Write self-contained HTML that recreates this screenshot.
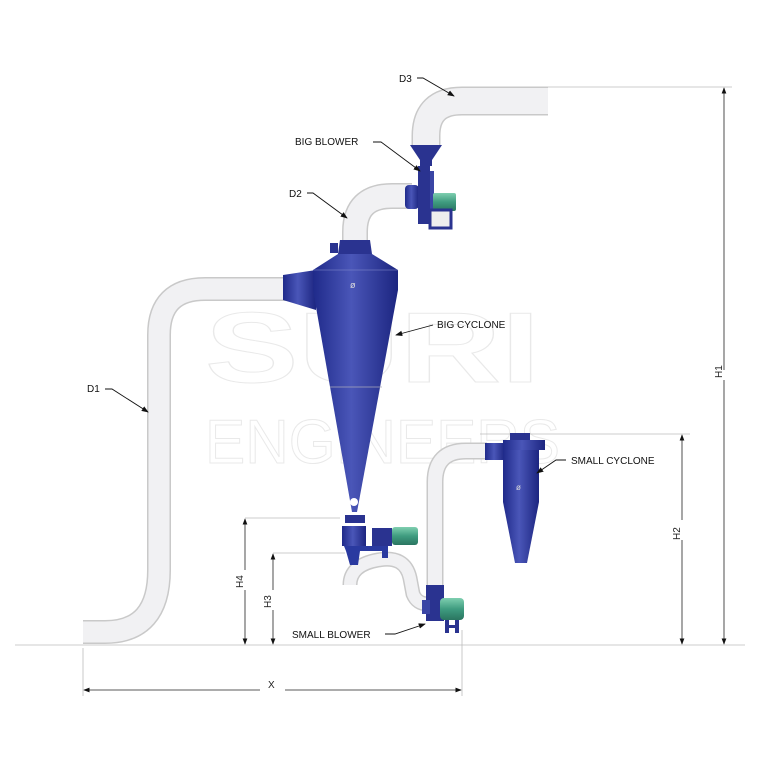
<!DOCTYPE html>
<html><head><style>
body{margin:0;background:#fff}
svg{display:block}
text{font-family:"Liberation Sans",sans-serif}
</style></head><body>
<svg width="768" height="768" viewBox="0 0 768 768" xmlns="http://www.w3.org/2000/svg">
<defs>
<linearGradient id="blue" x1="0" x2="1" y1="0" y2="0">
<stop offset="0" stop-color="#1f2a8a"/><stop offset="0.45" stop-color="#4a56b8"/><stop offset="1" stop-color="#1c2580"/>
</linearGradient>
<linearGradient id="green" x1="0" x2="0" y1="0" y2="1">
<stop offset="0" stop-color="#7fcfb0"/><stop offset="0.5" stop-color="#3f9c80"/><stop offset="1" stop-color="#2a7560"/>
</linearGradient>
<marker id="ar" markerWidth="8" markerHeight="8" refX="7" refY="4" orient="auto"><path d="M0,1 L8,4 L0,7z" fill="#111"/></marker>
</defs>
<!-- watermark -->
<g fill="none" stroke="#e9e9e9" stroke-width="1">
<text x="205" y="382" font-size="100" font-weight="bold" textLength="335" lengthAdjust="spacingAndGlyphs">SURI</text>
<text x="205" y="463" font-size="62" textLength="355" lengthAdjust="spacingAndGlyphs">ENGINEERS</text>
</g>
<!-- dimension lines -->
<g stroke="#bbb" stroke-width="0.8" fill="none">
<line x1="15" y1="645" x2="745" y2="645"/>
<line x1="548" y1="87" x2="732" y2="87"/>
<line x1="480" y1="434" x2="690" y2="434"/>
<line x1="245" y1="518" x2="340" y2="518"/>
<line x1="273" y1="553" x2="345" y2="553"/>
<line x1="83" y1="648" x2="83" y2="696"/>
<line x1="462" y1="630" x2="462" y2="696"/>
</g>
<g stroke="#222" stroke-width="0.8" fill="none" marker-end="url(#ar)">
<line x1="724" y1="370" x2="724" y2="88"/><line x1="724" y1="380" x2="724" y2="644"/>
<line x1="682" y1="520" x2="682" y2="435"/><line x1="682" y1="540" x2="682" y2="644"/>
<line x1="245" y1="570" x2="245" y2="519"/><line x1="245" y1="590" x2="245" y2="644"/>
<line x1="273" y1="590" x2="273" y2="554"/><line x1="273" y1="610" x2="273" y2="644"/>
<line x1="260" y1="690" x2="84" y2="690"/><line x1="285" y1="690" x2="461" y2="690"/>
</g>
<g font-size="10" fill="#222">
<text transform="translate(722,378) rotate(-90)">H1</text>
<text transform="translate(680,540) rotate(-90)">H2</text>
<text transform="translate(243,588) rotate(-90)">H4</text>
<text transform="translate(271,608) rotate(-90)">H3</text>
<text x="268" y="688">X</text>
</g>
<!-- pipes -->
<g fill="none" stroke-linecap="butt">
<path d="M292,289 L205,289 Q159,289 159,335 L159,570 Q159,632 105,632 L83,632" stroke="#c9c9c9" stroke-width="24"/>
<path d="M292,289 L205,289 Q159,289 159,335 L159,570 Q159,632 105,632 L83,632" stroke="#f1f1f3" stroke-width="21"/>
<path d="M355,248 L355,232 Q355,196 392,196 L412,196" stroke="#c9c9c9" stroke-width="26"/>
<path d="M355,248 L355,232 Q355,196 392,196 L412,196" stroke="#f1f1f3" stroke-width="23"/>
<path d="M426,146 L426,136 Q426,101 462,101 L548,101" stroke="#c9c9c9" stroke-width="29"/>
<path d="M426,146 L426,136 Q426,101 462,101 L548,101" stroke="#f1f1f3" stroke-width="26"/>
<path d="M487,451 L466,451 Q435,451 435,482 L435,588" stroke="#c9c9c9" stroke-width="17"/>
<path d="M487,451 L466,451 Q435,451 435,482 L435,588" stroke="#f1f1f3" stroke-width="14"/>
<path d="M350,585 Q350,565 378,560 Q405,555 410,578 L413,594 Q417,604 428,604" stroke="#c9c9c9" stroke-width="15"/>
<path d="M350,585 Q350,565 378,560 Q405,555 410,578 L413,594 Q417,604 428,604" stroke="#f1f1f3" stroke-width="12"/>
</g>
<!-- big cyclone -->
<path d="M283,275 L316,270 L316,310 L283,300z" fill="url(#blue)"/>
<path d="M340,240 L370,240 L372,254 L338,254z" fill="#2a3390"/>
<rect x="330" y="243" width="8" height="10" fill="#2a3390"/>
<path d="M338,254 L372,254 L398,270 L398,290 L357,512 L352,512 L313,290 L313,270z" fill="url(#blue)"/>
<line x1="313" y1="270" x2="398" y2="270" stroke="#8890d0" stroke-width="0.6"/>
<line x1="330" y1="387" x2="382" y2="387" stroke="#aab" stroke-width="0.8"/>
<circle cx="354" cy="502" r="4" fill="#fff"/>
<text x="350" y="288" font-size="9" fill="#ddd">ø</text>
<!-- big cyclone outlet & rotary -->
<rect x="345" y="515" width="20" height="8" fill="#2a3390"/>
<rect x="342" y="526" width="24" height="20" fill="url(#blue)"/>
<rect x="372" y="528" width="20" height="18" fill="#2a3390"/>
<rect x="392" y="527" width="26" height="18" rx="3" fill="url(#green)"/>
<path d="M344,546 L388,546 L388,558 L382,558 L382,551 L360,551 L358,565 L350,565 L346,551 Z" fill="#2a3aa0"/>
<!-- big blower -->
<path d="M410,145 L442,145 L432,160 L420,160z" fill="#2a3390"/>
<rect x="420" y="158" width="12" height="8" fill="#2a3390"/>
<rect x="405" y="185" width="14" height="24" rx="4" fill="url(#blue)"/>
<rect x="418" y="166" width="12" height="58" fill="#2a3390"/>
<rect x="430" y="171" width="4" height="48" fill="#3a45a5"/>
<rect x="433" y="193" width="23" height="18" rx="2" fill="url(#green)"/>
<rect x="430" y="210" width="21" height="18" fill="#eee" stroke="#2a3390" stroke-width="3"/>
<!-- small cyclone -->
<rect x="485" y="443" width="20" height="17" fill="url(#blue)"/>
<rect x="510" y="433" width="20" height="8" fill="#2a3390"/>
<rect x="503" y="440" width="42" height="10" fill="url(#blue)"/>
<rect x="503" y="450" width="36" height="52" fill="url(#blue)"/>
<path d="M503,502 L539,502 L527,563 L515,563z" fill="url(#blue)"/>
<text x="516" y="490" font-size="8" fill="#ddd">ø</text>
<!-- small blower -->
<rect x="426" y="585" width="18" height="36" fill="#2a3390"/>
<rect x="422" y="600" width="8" height="14" fill="#3a45a5"/>
<rect x="440" y="598" width="24" height="22" rx="4" fill="url(#green)"/>
<path d="M445,620 h4 v5 h6 v-5 h4 v13 h-4 v-5 h-6 v5 h-4z" fill="#2a3390"/>
<!-- labels -->
<g font-size="10" fill="#111">
<text x="399" y="82">D3</text>
<text x="295" y="145">BIG BLOWER</text>
<text x="289" y="197">D2</text>
<text x="437" y="328">BIG CYCLONE</text>
<text x="87" y="392">D1</text>
<text x="571" y="464">SMALL CYCLONE</text>
<text x="292" y="638">SMALL BLOWER</text>
</g>
<g stroke="#111" stroke-width="0.9" fill="none" marker-end="url(#ar)">
<path d="M417,78 L423,78 L454,96"/>
<path d="M373,142 L381,142 L420,171"/>
<path d="M307,193 L313,193 L347,218"/>
<path d="M433,325 L396,335"/>
<path d="M105,389 L112,389 L148,412"/>
<path d="M566,460 L556,460 L537,473"/>
<path d="M385,634 L395,634 L425,624"/>
</g>
</svg>
</body></html>
